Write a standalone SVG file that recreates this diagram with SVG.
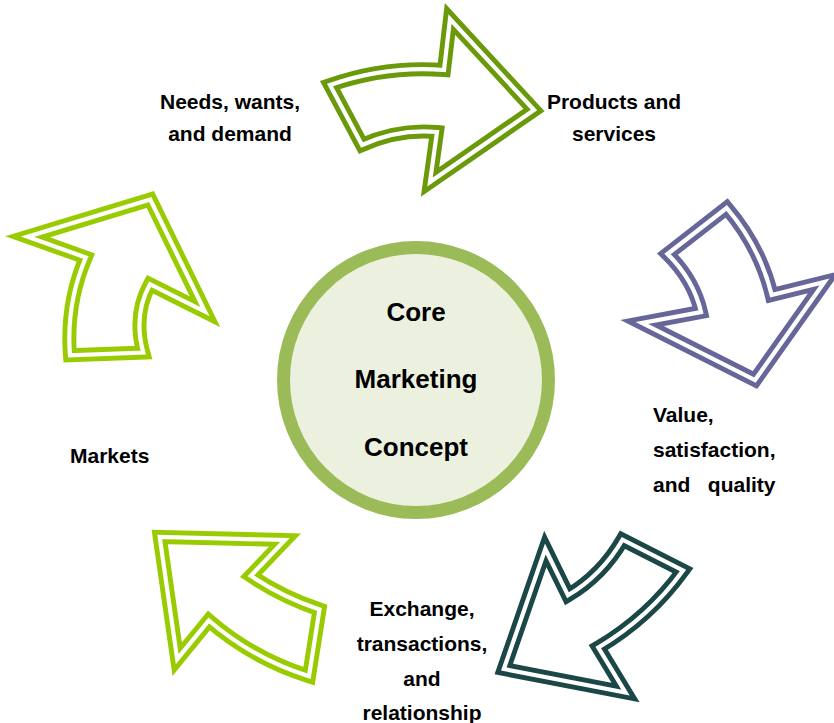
<svg xmlns="http://www.w3.org/2000/svg" width="834" height="723" viewBox="0 0 834 723">
<style>
.lbl{font-family:"Liberation Sans",Arial,sans-serif;font-weight:bold;font-size:21px;fill:#000;white-space:pre}
.mid{text-anchor:middle}
.core{font-family:"Liberation Sans",Arial,sans-serif;font-weight:bold;font-size:26px;fill:#000;text-anchor:middle}
.arr{fill:#fff;stroke-width:14;stroke-linejoin:miter;stroke-miterlimit:10}
.gap{fill:none;stroke:#fff;stroke-width:4.2;stroke-linejoin:miter;stroke-miterlimit:10}
</style>
<defs>
<path id="a1" d="M330,85 Q386,65.5 444,70 L450,19 L534,110 L430,182 L437,132 Q398.5,128.5 362,145 Z"/>
<path id="a2" d="M726.7,208 Q760,247 771.7,295 L824.5,282 L755,380 L642,323 L701,312 Q693.5,279.5 667.5,254 Z"/>
<path id="a3" d="M683,570.5 Q649,617.5 598.3,647.5 L625.5,692.5 L503.8,669 L545.3,549 L568,595.3 Q602,575 622.5,539.7 Z"/>
<path id="a4" d="M309,676.3 Q253,658.7 208.8,620.5 L177.2,659.2 L159.7,537 L285,540 L250.8,575.8 Q282.5,597 319.5,609.5 Z"/>
<path id="a5" d="M70,355.3 Q66,304 85.8,257.5 L27.5,236.7 L150.3,199.5 L205,311.7 L150,284.2 Q133,315 143.3,352.5 Z"/>
</defs>
<rect width="834" height="723" fill="#fff"/>
<g id="connectors">
<g id="arrow1"><use href="#a1" class="arr" stroke="#6A9A0A"/><use href="#a1" class="gap"/></g>
<g id="arrow2"><use href="#a2" class="arr" stroke="#666699"/><use href="#a2" class="gap"/></g>
<g id="arrow3"><use href="#a3" class="arr" stroke="#1B4747"/><use href="#a3" class="gap"/></g>
<g id="arrow4"><use href="#a4" class="arr" stroke="#99CC00"/><use href="#a4" class="gap"/></g>
<g id="arrow5"><use href="#a5" class="arr" stroke="#99CC00"/><use href="#a5" class="gap"/></g>
</g>
<g id="core">
<circle cx="416" cy="380" r="132.5" fill="#EBF1DE" stroke="#9BBB59" stroke-width="13"/>
<text class="core" x="416" y="321">Core</text>
<text class="core" x="416" y="388">Marketing</text>
<text class="core" x="416" y="456">Concept</text>
</g>
<g id="needs"><text class="lbl mid" x="230" y="109">Needs, wants,</text><text class="lbl mid" x="230" y="141">and demand</text></g>
<g id="products"><text class="lbl mid" x="614" y="109">Products and</text><text class="lbl mid" x="614" y="141">services</text></g>
<g id="value"><text class="lbl" x="653" y="422">Value,</text><text class="lbl" x="653" y="457">satisfaction,</text><text class="lbl" x="653" y="492">and   quality</text></g>
<g id="exchange"><text class="lbl mid" x="422" y="616">Exchange,</text><text class="lbl mid" x="422" y="651">transactions,</text><text class="lbl mid" x="422" y="686">and</text><text class="lbl mid" x="422" y="720">relationship</text></g>
<g id="markets"><text class="lbl" x="70" y="463">Markets</text></g>
</svg>
